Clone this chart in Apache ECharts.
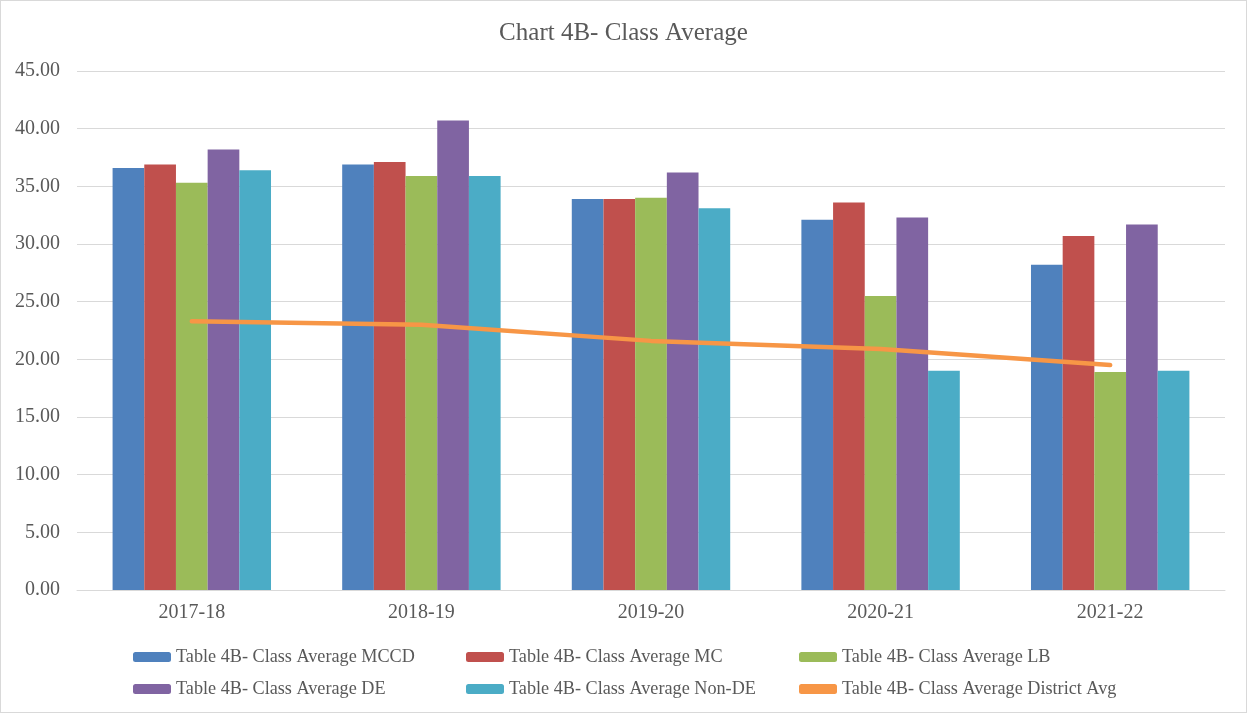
<!DOCTYPE html>
<html>
<head>
<meta charset="utf-8">
<script src="https://cdn.jsdelivr.net/npm/echarts@6/dist/echarts.min.js"></script>
<style>
  html, body { margin: 0; padding: 0; background: #fff; }
  #chart { width: 1247px; height: 713px; box-sizing: border-box; border: 1px solid #d9d9d9; }
</style>
</head>
<body>
<div id="chart"></div>
<script>
const years = ["2017-18", "2018-19", "2019-20", "2020-21", "2021-22"];
const mccd = [36.6, 36.9, 33.9, 32.1, 28.2];
const mc = [36.9, 37.1, 33.9, 33.6, 30.7];
const lb = [35.3, 35.9, 34.0, 25.5, 18.9];
const de = [38.2, 40.7, 36.2, 32.3, 31.7];
const nonDe = [36.4, 35.9, 33.1, 19.0, 19.0];
const districtAvg = [23.3, 23.0, 21.6, 20.9, 19.5];

const names = [
    "Table 4B- Class Average MCCD",
    "Table 4B- Class Average MC",
    "Table 4B- Class Average LB",
    "Table 4B- Class Average DE",
    "Table 4B- Class Average Non-DE",
    "Table 4B- Class Average District Avg"
];
const colors = ["#4F81BD", "#C0504D", "#9BBB59", "#8064A2", "#4BACC6", "#F79646"];
const font = "'Liberation Serif', serif";

const legendBase = {
    orient: "vertical",
    top: 642,
    itemWidth: 38,
    itemHeight: 10,
    itemGap: 14,
    textStyle: { color: "#595959", fontSize: 18.2, fontFamily: font }
};

const bar = (i, data) => ({
    name: names[i],
    type: "bar",
    data: data,
    itemStyle: { color: colors[i] },
    barGap: "0%",
    barCategoryGap: "31%"
});

const chart = echarts.init(document.getElementById("chart"));
chart.setOption({
    animation: false,
    color: colors,
    title: {
        text: "Chart 4B- Class Average",
        left: "center",
        top: 15,
        textStyle: { color: "#595959", fontSize: 25, fontWeight: "normal", fontFamily: font }
    },
    legend: [
        Object.assign({ left: 127, data: [names[0], names[3]] }, legendBase),
        Object.assign({ left: 460, data: [names[1], names[4]] }, legendBase),
        Object.assign({ left: 793, data: [names[2], { name: names[5], icon: "roundRect", itemHeight: 5 }] }, legendBase)
    ],
    grid: { left: 76, right: 21, top: 70, bottom: 122, containLabel: false },
    xAxis: {
        type: "category",
        data: years,
        axisLine: { lineStyle: { color: "#d9d9d9", width: 1 } },
        axisTick: { show: false },
        axisLabel: { color: "#595959", fontSize: 20, fontFamily: font, margin: 13 }
    },
    yAxis: {
        type: "value",
        min: 0,
        max: 45,
        interval: 5,
        axisLine: { show: false },
        axisTick: { show: false },
        splitLine: { lineStyle: { color: "#d9d9d9", width: 1 } },
        axisLabel: {
            color: "#595959", fontSize: 20, fontFamily: font, margin: 17,
            formatter: v => v.toFixed(2)
        }
    },
    series: [
        bar(0, mccd),
        bar(1, mc),
        bar(2, lb),
        bar(3, de),
        bar(4, nonDe),
        {
            name: names[5],
            type: "line",
            data: districtAvg,
            symbol: "none",
            lineStyle: { color: colors[5], width: 4.5, cap: "round" },
            itemStyle: { color: colors[5] }
        }
    ]
});
</script>
</body>
</html>
